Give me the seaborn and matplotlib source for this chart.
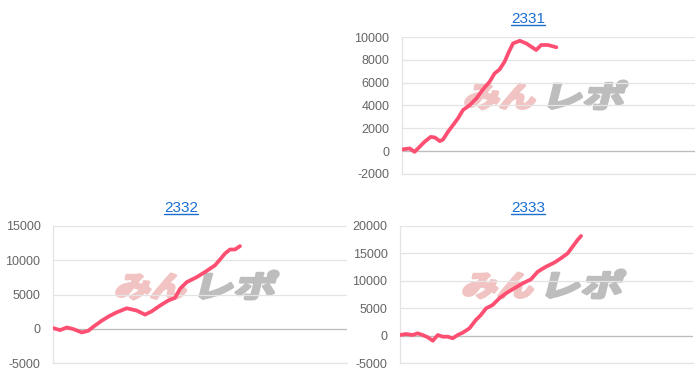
import numpy as np
import pandas as pd
import seaborn as sns
import matplotlib
matplotlib.use("Agg")
import matplotlib.pyplot as plt
from matplotlib.lines import Line2D
from matplotlib.textpath import TextPath
from matplotlib.patches import PathPatch
from matplotlib.font_manager import FontProperties
from matplotlib.transforms import Affine2D

# ---------------- data (x = position along the axis, 0..100) ----------------
titles = ["2331", "2332", "2333"]

x_2331 = [0, 2.6, 4.3, 6.0, 7.7, 9.8, 11.2, 12.9, 14.0, 15.7, 17.4, 19.1, 20.8,
          23.1, 25.4, 27.6, 29.9, 31.6, 33.3, 35.0, 36.5, 37.9, 40.2, 42.4,
          44.1, 45.8, 47.5, 49.8, 52.7]
y_2331 = [150, 240, -60, 380, 820, 1250, 1200, 880, 1020, 1700, 2280, 2870, 3600,
          4030, 4620, 5400, 6080, 6810, 7160, 7830, 8710, 9440, 9670, 9440,
          9150, 8860, 9300, 9300, 9100]

x_2332 = [0, 2.4, 4.7, 6.9, 9.8, 12.0, 13.7, 16.6, 19.4, 21.7, 25.1, 28.5, 31.3,
          33.6, 36.4, 39.2, 41.5, 43.2, 45.5, 48.9, 51.7, 55.1, 56.8, 58.5,
          60.2, 61.9, 63.6]
y_2332 = [100, -200, 190, -50, -540, -300, 290, 1180, 1910, 2400, 2990, 2650, 2060,
          2550, 3380, 4120, 4510, 5830, 6810, 7540, 8280, 9260, 10100, 10980,
          11570, 11570, 12060]

x_2333 = [0, 2.0, 4.3, 6.0, 7.7, 9.5, 11.2, 12.9, 14.6, 16.3, 18.0, 19.7, 21.4,
          23.7, 25.9, 27.6, 29.4, 31.6, 33.9, 36.2, 39.0, 41.9, 44.7, 47.0,
          49.8, 52.6, 54.9, 57.2, 58.9, 60.6, 61.8]
y_2333 = [110, 290, 110, 420, 110, -310, -930, 110, -200, -200, -490, 110, 530,
          1330, 2850, 3760, 4980, 5580, 6800, 7720, 8630, 9540, 10270, 11660,
          12570, 13300, 14100, 15000, 16220, 17450, 18180]

yticks_2331 = [-2000, 0, 2000, 4000, 6000, 8000, 10000]
yticks_2332 = [-5000, 0, 5000, 10000, 15000]
yticks_2333 = [-5000, 0, 5000, 10000, 15000, 20000]

# ---------------- style ----------------
sns.set_style("white")
plt.rcParams['font.family'] = ['Liberation Sans', 'DejaVu Sans']

W, H = 700, 382
fig = plt.figure(figsize=(W / 100, H / 100), dpi=100)

LINE = "#fd4f72"
GRID = "#e4e4e4"
ZERO = "#bdbdbd"
TICKC = "#666666"
TITLEC = "#1a6fd1"

# panel layout in pixels: (left, top, right, bottom) of plotting area, title center x, watermark center
panels = [
    dict(box=(402, 37, 695, 174), tx=528, wm=(546, 96),
         x=x_2331, y=y_2331, ticks=yticks_2331, title=titles[0]),
    dict(box=(53, 226, 347, 363), tx=181, wm=(197, 286),
         x=x_2332, y=y_2332, ticks=yticks_2332, title=titles[1]),
    dict(box=(400, 226, 693, 363), tx=528, wm=(544, 285),
         x=x_2333, y=y_2333, ticks=yticks_2333, title=titles[2]),
]

fp = FontProperties(family='Noto Sans CJK JP', weight='bold')


def add_word(text, color, left, right, top, bottom):
    """Draw a slanted logo word whose box spans the given pixel rectangle (y from top)."""
    tp = TextPath((0, 0), text, size=30, prop=fp)
    ext = tp.get_extents()
    hpx = bottom - top - 2
    sx = (right - left - 2) / ext.width * 0.88
    sy = hpx / ext.height
    tr = (Affine2D().translate(-ext.x0, -ext.y0).scale(sx, sy)
          .skew_deg(14, 0).translate(left + 1, H - bottom + 1))
    patch = PathPatch(tp, transform=tr, facecolor=color, edgecolor=color,
                      linewidth=2.2, joinstyle="round", zorder=-5)
    fig.add_artist(patch)


axes = []
for p in panels:
    l, t, r, b = p["box"]
    ax = fig.add_axes([l / W, 1 - b / H, (r - l) / W, (b - t) / H])
    ax.set_facecolor("none")
    df = pd.DataFrame({"x": p["x"], "y": p["y"]})
    sns.lineplot(data=df, x="x", y="y", ax=ax, color=LINE, linewidth=2.7,
                 solid_capstyle="round", solid_joinstyle="round", zorder=5)
    ax.set_xlim(0, 100)
    ax.set_ylim(p["ticks"][0], p["ticks"][-1])
    ax.set_yticks(p["ticks"])
    ax.set_yticklabels([str(v) for v in p["ticks"]])
    ax.set_xticks([])
    ax.set_xlabel("")
    ax.set_ylabel("")
    ax.grid(axis="y", color=GRID, linewidth=0.9)
    ax.axhline(0, color=ZERO, linewidth=0.9, zorder=1)
    for s in ["top", "right"]:
        ax.spines[s].set_visible(False)
    ax.spines["left"].set_color(GRID)
    ax.spines["left"].set_linewidth(0.9)
    ax.spines["bottom"].set_color(GRID)
    ax.spines["bottom"].set_linewidth(0.9)
    ax.tick_params(axis="y", length=6.5, width=0.9, color=GRID, pad=2.5,
                   labelsize=9, labelcolor=TICKC)
    # title (blue, underlined)
    txt = fig.text(p["tx"] / W, 1 - (t - 13.7) / H, p["title"], ha="center",
                   va="baseline", color=TITLEC, fontsize=11)
    p["txt"] = txt
    # watermark
    cx, cy = p["wm"]
    add_word("みん", "#f1c3c3", cx - 83, cx - 3, cy - 13, cy + 14)
    add_word("レポ", "#bdbdbd", cx + 1, cx + 86, cy - 16, cy + 14)
    axes.append(ax)

fig.canvas.draw()
renderer = fig.canvas.get_renderer()
for p in panels:
    bb = p["txt"].get_window_extent(renderer)
    t = p["box"][1]
    yline = H - (t - 12)
    fig.add_artist(Line2D([bb.x0 / W, bb.x1 / W], [yline / H, yline / H],
                          transform=fig.transFigure, color=TITLEC, linewidth=1.0))

fig.savefig("out.png", dpi=100)
